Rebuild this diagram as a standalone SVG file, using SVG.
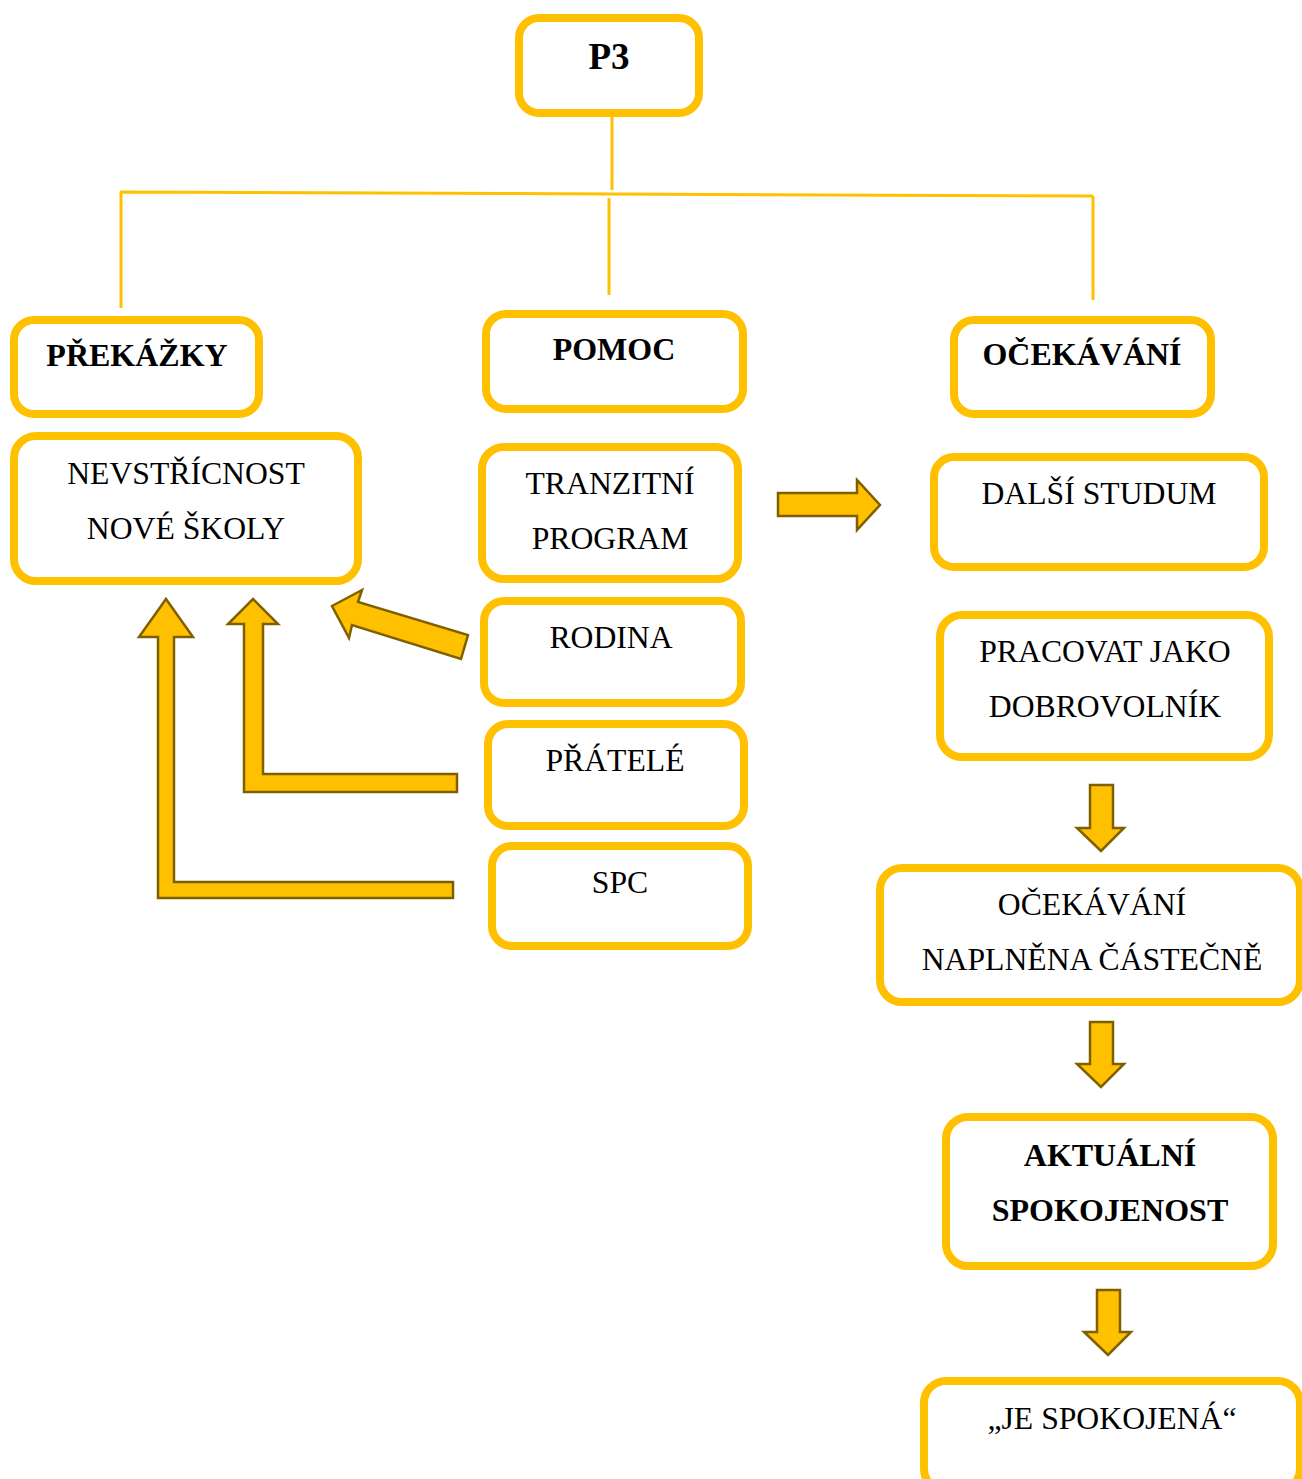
<svg xmlns="http://www.w3.org/2000/svg" width="1302" height="1479" viewBox="0 0 1302 1479">
<style>
.box{fill:#fff;stroke:#FFC000;stroke-width:8}
.ln{stroke:#FFC000;stroke-width:3;fill:none}
.ar{fill:#FFC000;stroke:#7F6000;stroke-width:2.5;stroke-linejoin:miter}
text{font-family:"Liberation Serif","Times New Roman",serif;font-size:31.7px;fill:#000;text-anchor:middle}
.b{font-weight:bold;font-size:32px}
</style>
<rect width="1302" height="1479" fill="#fff"/>
<g id="connectors">
<path class="ln" d="M612 117V190M120 192L1093 196M121 192V308M609 198V295M1093 196V300"/>
<polygon class="ar" points="778,493 857,493 857,480 880,505 857,530 857,516 778,516"/>
<polygon class="ar" points="1090,785 1113,785 1113,828 1124,828 1101,851 1077,828 1090,828"/>
<polygon class="ar" points="1090,1022 1113,1022 1113,1064 1124,1064 1101,1087 1077,1064 1090,1064"/>
<polygon class="ar" points="1097,1290 1120,1290 1120,1332 1131,1332 1108,1355 1084,1332 1097,1332"/>
<polygon class="ar" points="166,599 193,637 174,637 174,882 453,882 453,898 158,898 158,637 139,637"/>
<polygon class="ar" points="253,599 278,624 263,624 263,774 457,774 457,792 244,792 244,624 228,624"/>
<polygon class="ar" points="332,606 362,590 358,602 468,635 461,659 352,625 349,638"/>
</g>
<g id="p3"><rect class="box" x="519" y="18" width="180" height="95" rx="20"/><text class="b" x="609" y="69" style="font-size:37px">P3</text></g>
<g id="prekazky"><rect class="box" x="14" y="320" width="245" height="94" rx="20"/><text class="b" x="137" y="366">PŘEKÁŽKY</text></g>
<g id="pomoc"><rect class="box" x="486" y="314" width="257" height="95" rx="20"/><text class="b" x="614" y="360">POMOC</text></g>
<g id="ocekavani"><rect class="box" x="954" y="320" width="257" height="94" rx="20"/><text class="b" x="1082" y="365">OČEKÁVÁNÍ</text></g>
<g id="nevstricnost"><rect class="box" x="14" y="436" width="344" height="145" rx="22"/><text x="186" y="484">NEVSTŘÍCNOST</text><text x="186" y="539">NOVÉ ŠKOLY</text></g>
<g id="tranzitni"><rect class="box" x="482" y="447" width="256" height="132" rx="22"/><text x="610" y="494">TRANZITNÍ</text><text x="610" y="549">PROGRAM</text></g>
<g id="rodina"><rect class="box" x="484" y="601" width="257" height="102" rx="20"/><text x="611" y="648">RODINA</text></g>
<g id="pratele"><rect class="box" x="488" y="724" width="256" height="102" rx="20"/><text x="615" y="771">PŘÁTELÉ</text></g>
<g id="spc"><rect class="box" x="492" y="846" width="256" height="100" rx="20"/><text x="620" y="893">SPC</text></g>
<g id="dalsi"><rect class="box" x="934" y="457" width="330" height="110" rx="20"/><text x="1099" y="504">DALŠÍ STUDUM</text></g>
<g id="pracovat"><rect class="box" x="940" y="615" width="329" height="142" rx="22"/><text x="1105" y="662">PRACOVAT JAKO</text><text x="1105" y="717">DOBROVOLNÍK</text></g>
<g id="naplnena"><rect class="box" x="880" y="868" width="420" height="134" rx="22"/><text x="1092" y="915">OČEKÁVÁNÍ</text><text x="1092" y="970">NAPLNĚNA ČÁSTEČNĚ</text></g>
<g id="aktualni"><rect class="box" x="946" y="1117" width="327" height="149" rx="22"/><text class="b" x="1110" y="1166">AKTUÁLNÍ</text><text class="b" x="1110" y="1221">SPOKOJENOST</text></g>
<g id="spokojena"><rect class="box" x="924" y="1381" width="376" height="110" rx="22"/><text x="1112" y="1429">„JE SPOKOJENÁ“</text></g>
</svg>
